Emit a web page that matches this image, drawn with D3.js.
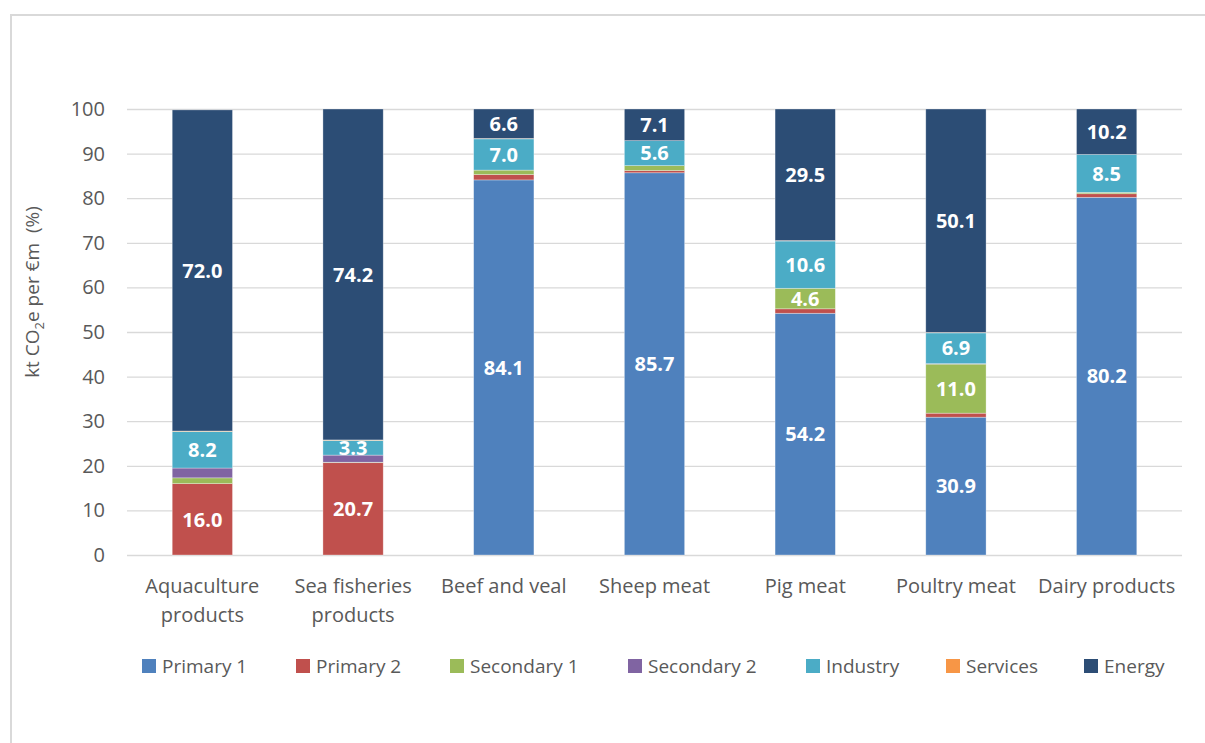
<!DOCTYPE html>
<html>
<head>
<meta charset="utf-8">
<script src="https://cdn.jsdelivr.net/npm/d3@7"></script>
<style>
  body { margin: 0; background: #fff; }
  text { font-family: "Open Sans", "Noto Sans", sans-serif; }
</style>
</head>
<body>
<div id="chart"></div>
<script>
// categories and series (percent shares)
var categories = [["Aquaculture", "products"], ["Sea fisheries", "products"], ["Beef and veal"], ["Sheep meat"], ["Pig meat"], ["Poultry meat"], ["Dairy products"]];
var seriesNames = ["Primary 1", "Primary 2", "Secondary 1", "Secondary 2", "Industry", "Services", "Energy"];
var primary1   = [0.0, 0.0, 84.1, 85.7, 54.2, 30.9, 80.2];
var primary2   = [16.0, 20.7, 1.2, 0.5, 1.0, 0.9, 0.8];
var secondary1 = [1.3, 0.1, 1.0, 1.1, 4.6, 11.0, 0.3];
var secondary2 = [2.2, 1.6, 0.0, 0.0, 0.0, 0.1, 0.0];
var industry   = [8.2, 3.3, 7.0, 5.6, 10.6, 6.9, 8.5];
var services   = [0.1, 0.1, 0.1, 0.0, 0.1, 0.1, 0.0];
var energy     = [72.0, 74.2, 6.6, 7.1, 29.5, 50.1, 10.2];
var yTicks = [0, 10, 20, 30, 40, 50, 60, 70, 80, 90, 100];
// which segments get a value label
var labelled = ["Primary 1", "Primary 2", "Secondary 1", "Industry", "Energy"];

var colors = ["#4f81bd", "#c0504d", "#9bbb59", "#8064a2", "#4bacc6", "#f79646", "#2c4d75"];

var W = 1205, H = 743;
var margin = {top: 109, left: 127, right: 23, bottom: 188};
var width = W - margin.left - margin.right,
    height = H - margin.top - margin.bottom;

var svg = d3.select("#chart").append("svg")
    .attr("width", W).attr("height", H);

// chart border
svg.append("rect")
    .attr("x", 11).attr("y", 15)
    .attr("width", 1300).attr("height", 900)
    .attr("fill", "none").attr("stroke", "#d9d9d9").attr("stroke-width", 2);

var g = svg.append("g").attr("transform", "translate(" + margin.left + "," + margin.top + ")");

var rows = categories.map(function(c, i) {
  return {
    key: c.join(" "), lines: c,
    "Primary 1": primary1[i], "Primary 2": primary2[i], "Secondary 1": secondary1[i],
    "Secondary 2": secondary2[i], "Industry": industry[i], "Services": services[i], "Energy": energy[i]
  };
});

var x = d3.scaleBand().domain(rows.map(function(d){ return d.key; }))
    .range([0, width]).paddingInner(0.6).paddingOuter(0.3);
var y = d3.scaleLinear().domain([0, 100]).range([height, 0]);
var color = d3.scaleOrdinal().domain(seriesNames).range(colors);

// gridlines
g.append("g")
    .call(d3.axisLeft(y).tickValues(yTicks).tickSize(-width).tickFormat(""))
    .call(function(a){ a.select(".domain").remove(); })
    .selectAll("line").attr("stroke", "#d9d9d9").attr("stroke-width", 1.3);

// y tick labels
var yAx = g.append("g")
    .call(d3.axisLeft(y).tickValues(yTicks).tickSize(0).tickPadding(22));
yAx.select(".domain").remove();
yAx.selectAll("text").attr("fill", "#595959").style("font-size", "20px")
    .style("font-family", "'Open Sans', sans-serif");

// y axis title
var yt = svg.append("text")
    .attr("transform", "translate(39,292) rotate(-90)")
    .attr("text-anchor", "middle").attr("fill", "#595959").style("font-size", "19px")
    .style("white-space", "pre");
yt.append("tspan").text("kt CO");
yt.append("tspan").attr("dy", 5).style("font-size", "13px").text("2");
yt.append("tspan").attr("dy", -5).text("e per €m  (%)");

var stacked = d3.stack().keys(seriesNames)(rows);

var layer = g.selectAll(".layer").data(stacked).enter().append("g")
    .attr("class", "layer").attr("fill", function(d){ return color(d.key); });

layer.selectAll("rect").data(function(d){ return d; }).enter().append("rect")
    .attr("x", function(d){ return x(d.data.key); })
    .attr("y", function(d){ return y(d[1]); })
    .attr("width", x.bandwidth())
    .attr("height", function(d){ return y(d[0]) - y(d[1]); })
    .attr("stroke", "#ffffff").attr("stroke-opacity", 0.45).attr("stroke-width", 0.7);

// value labels
stacked.forEach(function(s) {
  if (labelled.indexOf(s.key) < 0) return;
  g.selectAll(null).data(s.filter(function(d){ return d[1] - d[0] >= 3; })).enter().append("text")
    .attr("x", function(d){ return x(d.data.key) + x.bandwidth() / 2; })
    .attr("y", function(d){ return y((d[0] + d[1]) / 2); })
    .attr("dy", "0.36em")
    .attr("text-anchor", "middle")
    .attr("fill", "#fff").style("font-weight", "bold").style("font-size", "20px")
    .text(function(d){ return (d[1] - d[0]).toFixed(1); });
});

// category labels
var cat = g.append("g");
rows.forEach(function(r) {
  var t = cat.append("text")
      .attr("x", x(r.key) + x.bandwidth() / 2)
      .attr("y", height + 38)
      .attr("text-anchor", "middle").attr("fill", "#595959").style("font-size", "20px");
  r.lines.forEach(function(l, i) {
    t.append("tspan").attr("x", x(r.key) + x.bandwidth() / 2).attr("dy", i ? 29 : 0).text(l);
  });
});

// legend
var legX = [142, 296, 450, 628, 806, 946, 1084];
var leg = svg.append("g").attr("transform", "translate(0,666)");
seriesNames.forEach(function(n, i) {
  leg.append("rect").attr("x", legX[i]).attr("y", -7).attr("width", 14).attr("height", 14)
      .attr("fill", color(n));
  leg.append("text").attr("x", legX[i] + 20).attr("y", 0).attr("dy", "0.36em")
      .attr("fill", "#595959").style("font-size", "19px").text(n);
});
</script>
</body>
</html>
